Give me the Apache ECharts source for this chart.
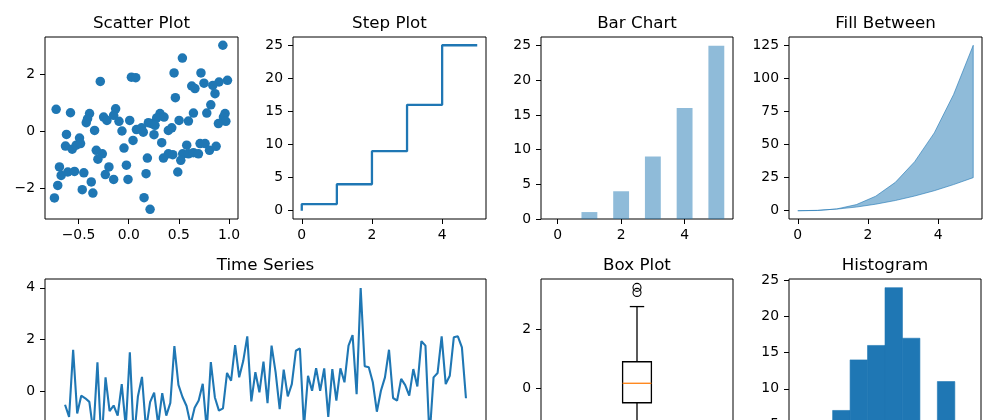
<!DOCTYPE html>
<html>
<head>
<meta charset="utf-8">
<script src="https://cdn.jsdelivr.net/npm/echarts@6/dist/echarts.min.js"></script>
<style>
html,body{margin:0;padding:0;background:#fff;}
#chart{width:1000px;height:420px;}
</style>
</head>
<body>
<div id="chart"></div>
<script>
// ---------------- data ----------------
const scatterX = [-0.283,0.027,0.07,-0.723,-0.58,-0.39,-0.423,-0.41,-0.34,-0.25,-0.217,-0.13,-0.15,-0.097,-0.067,0.01,0.077,0.043,-0.047,-0.62,-0.63,-0.563,-0.523,-0.49,-0.48,-0.323,-0.263,-0.307,-0.69,-0.673,-0.607,-0.54,-0.447,-0.707,-0.74,-0.463,-0.357,-0.373,-0.197,-0.233,-0.15,-0.023,-0.007,
  0.938,0.535,0.452,0.72,0.984,0.90,0.838,0.75,0.628,0.66,0.86,0.465,0.818,0.778,0.645,0.595,0.502,0.96,0.944,0.968,0.894,0.312,0.279,0.352,0.229,0.196,0.262,0.128,0.145,0.252,0.395,0.429,0.329,0.578,0.538,0.595,0.645,0.711,0.761,0.695,0.805,0.871,0.395,0.439,0.346,0.519,0.186,0.489,0.173,0.153,0.213];
const scatterY = [1.74,1.89,1.87,0.76,0.64,0.61,0.29,0.43,0.02,0.49,0.37,0.78,0.55,0.34,0.0,0.37,0.05,-0.33,-0.60,-0.12,-0.53,-0.64,-0.50,-0.25,-0.44,-0.68,-0.80,-0.99,-1.26,-1.56,-1.44,-1.42,-1.47,-1.91,-2.35,-2.06,-2.18,-1.79,-1.26,-1.53,-1.70,-1.20,-1.70,
  3.01,2.56,2.04,2.04,1.78,1.72,1.60,1.68,1.58,1.49,1.31,1.17,0.92,0.63,0.63,0.35,0.37,0.61,0.49,0.34,0.26,0.61,0.46,0.49,0.26,0.29,0.20,0.11,-0.04,-0.13,0.02,0.11,-0.41,-0.50,-0.80,-0.80,-0.76,-0.44,-0.44,-0.80,-0.68,-0.54,-0.80,-0.83,-0.95,-1.03,-0.95,-1.44,-1.50,-2.34,-2.75];

const stepX = [0,1,2,3,4,5];
const stepY = [0,1,4,9,16,25];

const barX = [0,1,2,3,4,5];
const barY = [0,1,4,9,16,25];

const fillX    = [0,0.56,1.11,1.67,2.22,2.78,3.33,3.89,4.44,5];
const fillLow  = [0,0.31,1.23,2.78,4.94,7.72,11.11,15.12,19.75,25];
const fillHigh = [0,0.17,1.37,4.63,10.97,21.43,37.04,58.81,87.79,125];

const tsValues = [-0.53,-1.0,1.60,-0.87,-0.18,-0.28,-0.42,-1.6,1.11,-2.1,
  0.53,-0.78,-0.56,-0.95,0.27,-1.4,1.50,-1.9,-0.2,0.55,
  -1.5,-0.43,-0.06,-1.3,-0.08,-0.95,-0.46,1.74,0.24,-0.23,
  -0.58,-1.3,-0.65,-0.37,0.28,-1.5,1.12,-0.25,-0.76,-0.67,
  0.70,0.40,1.78,0.53,1.16,2.12,-0.40,0.73,-0.05,1.14,
  -0.47,1.76,0.72,-0.70,0.83,-0.21,0.27,1.56,1.65,-1.4,
  0.59,0.01,0.89,0.01,0.88,-1.0,0.85,-0.37,0.88,0.34,
  1.76,2.17,-0.12,3.99,0.96,0.92,0.34,-0.80,0.01,0.53,
  1.60,-0.27,-0.37,0.47,0.23,-0.18,0.85,0.18,1.93,1.76,
  -1.8,0.53,0.70,2.12,0.27,0.59,2.08,2.12,1.69,-0.28];

const boxStats = [-2.25,-0.50,0.16,0.89,2.76]; // low whisker, Q1, median, Q3, high whisker
const boxOutliers = [3.24,3.41];

const histEdges  = [-2.5,-1.9,-1.3,-0.7,-0.1,0.5,1.1,1.7,2.3,2.9,3.5];
const histCounts = [1,3,7,14,16,24,17,4,11,3];

const titles = ['Scatter Plot','Step Plot','Bar Chart','Fill Between','Time Series','Box Plot','Histogram'];

const scatterXTicks = [-0.5,0,0.5,1.0];
const scatterYTicks = [-2,0,2];
const stepXTicks = [0,2,4];
const stepYTicks = [0,5,10,15,20,25];
const barXTicks = [0,2,4];
const barYTicks = [0,5,10,15,20,25];
const fillXTicks = [0,2,4];
const fillYTicks = [0,25,50,75,100,125];
const tsYTicks = [-2,0,2,4];
const boxYTicks = [-2,0,2];
const boxXTicks = [1];
const histYTicks = [0,5,10,15,20,25];

// ---------------- layout / style ----------------
const FONT = 'DejaVu Sans';
const C0 = '#1f77b4';
const grids = [
  {left:45,  top:37,  width:193, height:182},
  {left:293, top:37,  width:193, height:182},
  {left:541, top:37,  width:192, height:182},
  {left:789, top:37,  width:193, height:182},
  {left:45,  top:279, width:441, height:182},
  {left:541, top:279, width:192, height:182},
  {left:789, top:279, width:192, height:182}
];
const minus = s => String(s).replace('-', '\u2212');
const fmtInt = v => minus(v);
const fmt1 = v => minus(v.toFixed(1));

function axis(gi, min, max, ticks, fmt, showLabel, margin) {
  return {
    type:'value', gridIndex:gi, min:min, max:max,
    axisLine:{show:false, onZero:false},
    splitLine:{show:false},
    axisTick:{show:true, inside:false, length:5, lineStyle:{color:'#000', width:1}, customValues:ticks},
    axisLabel:{show:showLabel, customValues:ticks, margin:margin, color:'#000',
               fontSize:13.9, fontFamily:FONT, formatter:fmt}
  };
}

const xAxes = [
  axis(0, -0.834, 1.089, scatterXTicks, fmt1, true, 9),
  axis(1, -0.25, 5.25, stepXTicks, fmtInt, true, 9),
  axis(2, -0.525, 5.525, barXTicks, fmtInt, true, 9),
  axis(3, -0.25, 5.25, fillXTicks, fmtInt, true, 9),
  axis(4, -4.95, 103.95, [], fmtInt, false, 9),
  axis(5, 0.5, 1.5, boxXTicks, fmtInt, false, 9),
  axis(6, -2.8, 3.8, [], fmtInt, false, 9)
];
const yAxes = [
  axis(0, -3.09, 3.30, scatterYTicks, fmtInt, true, 10),
  axis(1, -1.25, 26.25, stepYTicks, fmtInt, true, 10),
  axis(2, 0, 26.25, barYTicks, fmtInt, true, 10),
  axis(3, -6.25, 131.25, fillYTicks, fmtInt, true, 10),
  axis(4, -2.71, 4.34, tsYTicks, fmtInt, true, 10),
  axis(5, -2.475, 3.695, boxYTicks, fmtInt, true, 10),
  axis(6, 0, 25.2, histYTicks, fmtInt, true, 10)
];

const BAR_W = 0.5;
const BOX_W = 0.15;

const series = [
  {
    type:'scatter', xAxisIndex:0, yAxisIndex:0,
    data: scatterX.map((x,i)=>[x, scatterY[i]]),
    symbol:'circle', symbolSize:9.5, itemStyle:{color:C0, opacity:1}, silent:true
  },
  {
    type:'line', xAxisIndex:1, yAxisIndex:1, step:'start',
    data: stepX.map((x,i)=>[x, stepY[i]]),
    showSymbol:false, lineStyle:{color:C0, width:2.3}, silent:true
  },
  {
    type:'custom', xAxisIndex:2, yAxisIndex:2,
    data: barX.map((x,i)=>[x, barY[i]]),
    renderItem:(params, api)=>{
      const x = api.value(0), y = api.value(1);
      const p0 = api.coord([x - BAR_W/2, y]);
      const p1 = api.coord([x + BAR_W/2, 0]);
      return {type:'rect', shape:{x:p0[0], y:p0[1], width:p1[0]-p0[0], height:p1[1]-p0[1]},
              style:{fill:'rgba(31,119,180,0.5)'}};
    }, silent:true
  },
  {
    type:'custom', xAxisIndex:3, yAxisIndex:3,
    data: fillX.map((x,i)=>[x, fillHigh[i]]),
    renderItem:(params, api)=>{
      if (params.dataIndex !== 0) return null;
      const pts = [];
      for (let i=0;i<fillX.length;i++) pts.push(api.coord([fillX[i], fillHigh[i]]));
      for (let i=fillX.length-1;i>=0;i--) pts.push(api.coord([fillX[i], fillLow[i]]));
      return {type:'polygon', shape:{points:pts},
              style:{fill:'rgba(31,119,180,0.5)', stroke:'rgba(31,119,180,0.6)', lineWidth:1}};
    }, silent:true
  },
  {
    type:'line', xAxisIndex:4, yAxisIndex:4,
    data: tsValues.map((v,i)=>[i, v]),
    showSymbol:false, lineStyle:{color:C0, width:2.1}, silent:true
  },
  {
    type:'custom', xAxisIndex:5, yAxisIndex:5,
    data: [[1].concat(boxStats)],
    renderItem:(params, api)=>{
      const x = api.value(0);
      const lo = api.value(1), q1 = api.value(2), med = api.value(3), q3 = api.value(4), hi = api.value(5);
      const L = api.coord([x - BOX_W/2, q3]);
      const R = api.coord([x + BOX_W/2, q1]);
      const cL = api.coord([x - BOX_W/4, hi]);
      const cR = api.coord([x + BOX_W/4, lo]);
      const cx = api.coord([x, 0])[0];
      const yHi = api.coord([x, hi])[1], yLo = api.coord([x, lo])[1];
      const yQ1 = api.coord([x, q1])[1], yQ3 = api.coord([x, q3])[1], yMed = api.coord([x, med])[1];
      const ls = {stroke:'#000', lineWidth:1.3, fill:null};
      return {type:'group', children:[
        {type:'line', shape:{x1:cx, y1:yQ3, x2:cx, y2:yHi}, style:ls},
        {type:'line', shape:{x1:cx, y1:yQ1, x2:cx, y2:yLo}, style:ls},
        {type:'line', shape:{x1:cL[0], y1:yHi, x2:cR[0], y2:yHi}, style:ls},
        {type:'line', shape:{x1:cL[0], y1:yLo, x2:cR[0], y2:yLo}, style:ls},
        {type:'rect', shape:{x:L[0], y:yQ3, width:R[0]-L[0], height:yQ1-yQ3}, style:{stroke:'#000', lineWidth:1.3, fill:'none'}},
        {type:'line', shape:{x1:L[0], y1:yMed, x2:R[0], y2:yMed}, style:{stroke:'#ff7f0e', lineWidth:1.3}}
      ]};
    }, silent:true
  },
  {
    type:'scatter', xAxisIndex:5, yAxisIndex:5,
    data: boxOutliers.map(v=>[1, v]),
    symbol:'circle', symbolSize:8,
    itemStyle:{color:'rgba(0,0,0,0)', borderColor:'#000', borderWidth:1.1, opacity:1}, silent:true
  },
  {
    type:'custom', xAxisIndex:6, yAxisIndex:6,
    data: histCounts.map((c,i)=>[histEdges[i], histEdges[i+1], c]),
    renderItem:(params, api)=>{
      const p0 = api.coord([api.value(0), api.value(2)]);
      const p1 = api.coord([api.value(1), 0]);
      return {type:'rect', shape:{x:p0[0], y:p0[1], width:p1[0]-p0[0], height:p1[1]-p0[1]},
              style:{fill:C0, stroke:C0, lineWidth:0.6}};
    }, silent:true
  }
];

const titleComps = titles.map((t,i)=>{
  const g = grids[i];
  return {text:t, left:g.left + g.width/2, top:g.top - 22, textAlign:'center', padding:0,
          textStyle:{fontSize:16.7, fontWeight:'normal', color:'#000', fontFamily:FONT}};
});

const chart = echarts.init(document.getElementById('chart'), null, {renderer:'canvas'});
chart.setOption({
  animation:false,
  backgroundColor:'#fff',
  textStyle:{fontFamily:FONT},
  title: titleComps,
  grid: grids.map(g=>Object.assign({show:true, borderColor:'#000', borderWidth:1, backgroundColor:'rgba(0,0,0,0)',
                                    containLabel:false, outerBoundsMode:'none'}, g)),
  xAxis: xAxes,
  yAxis: yAxes,
  series: series
});
</script>
</body>
</html>
